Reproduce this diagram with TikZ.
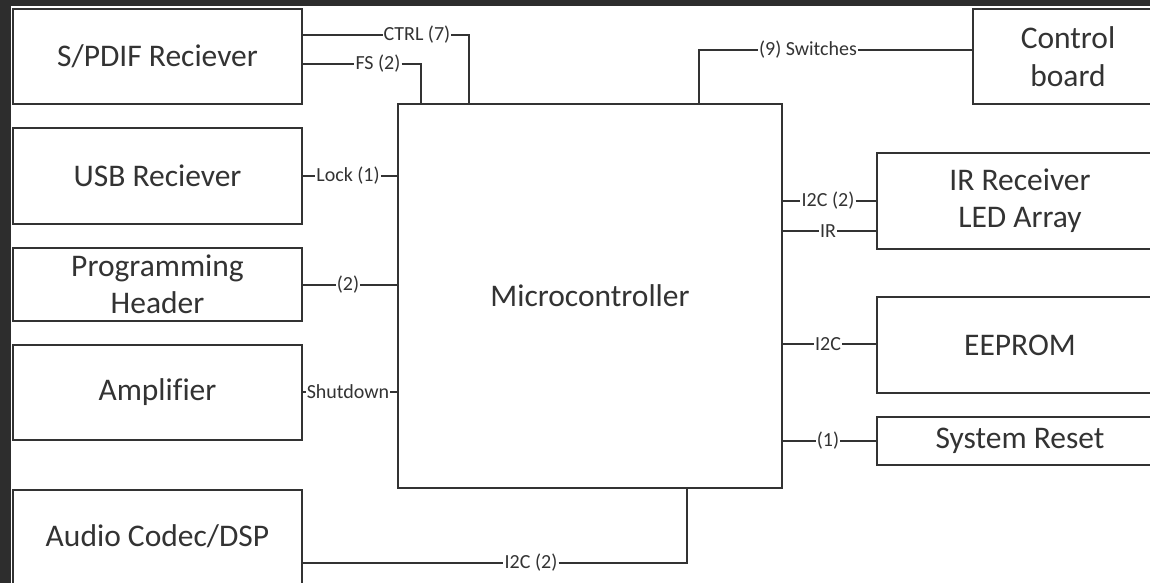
\documentclass[tikz,border=0pt]{standalone}
\usepackage{fontspec}
\setmainfont{Carlito}[Ligatures={NoCommon}]
\definecolor{frame}{HTML}{2D2D2D}
\definecolor{ink}{HTML}{333333}
\tikzset{
  blk/.style={draw=ink, line width=1.8pt, inner sep=0pt, align=center, text=ink,
    font=\fontsize{31.5}{37.4}\selectfont},
  lbl/.style={inner xsep=1pt, inner ysep=0pt, text=ink, font=\fontsize{20}{24}\selectfont},
  conn/.style={draw=ink, line width=1.8pt},
  bigtxt/.style={text=ink, align=center, inner sep=0pt, font=\fontsize{31.5}{37.4}\selectfont}
}
\begin{document}
\begin{tikzpicture}[x=1pt,y=-1pt]
\useasboundingbox (0,0) rectangle (1150,583);
\fill[frame] (0,0) rectangle (1150,583);
\fill[white] (11,6) rectangle (1150,583);
\clip (11,6) rectangle (1150,583);

% left blocks
\node[blk, minimum width=289pt, minimum height=95pt] (spdif) at (157.5,56.5) {S/PDIF Reciever};
\node[blk, minimum width=289pt, minimum height=96pt] (usb) at (157.5,176) {USB Reciever};
\node[blk, minimum width=289pt, minimum height=73pt] (prog) at (157.5,284.5) {Programming\\Header};
\node[blk, minimum width=289pt, minimum height=95pt] (amp) at (157.5,392.5) {Amplifier};
\node[blk, minimum width=289pt, minimum height=120pt, anchor=north] (codec) at (157.5,489) {};
\node[bigtxt] (codectxt) at (157.5,536) {Audio Codec/DSP};

% microcontroller
\node[blk, minimum width=384pt, minimum height=384pt] (mc) at (590,296) {Microcontroller};

% right blocks
\node[blk, minimum width=190pt, minimum height=95pt] (ctrlb) at (1068,56.5) {Control\\board};
\node[blk, minimum width=286pt, minimum height=96pt] (ir) at (1020,201) {IR Receiver\\LED Array};
\node[blk, minimum width=286pt, minimum height=96pt] (eeprom) at (1020,345) {EEPROM};
\node[blk, minimum width=286pt, minimum height=48pt] (reset) at (1020,441) {System Reset};

% labels
\node[lbl] (ctrl) at (417,35) {CTRL (7)};
\node[lbl] (fs) at (378,64) {FS (2)};
\node[lbl] (sw) at (808,50) {(9) Switches};
\node[lbl] (lock) at (348,176) {Lock (1)};
\node[lbl] (pgm) at (348,285) {(2)};
\node[lbl] (shdn) at (348,392) {Shutdown};
\node[lbl] (irtwo) at (828,201) {I2C (2)};
\node[lbl] (irsig) at (828,231) {IR};
\node[lbl] (eei) at (828,344) {I2C};
\node[lbl] (rst) at (828,441) {(1)};
\node[lbl] (codeci) at (531,563) {I2C (2)};

% connectors
\draw[conn] (spdif.east |- ctrl) -- (ctrl) -| ([xshift=72pt]mc.north west);
\draw[conn] (spdif.east |- fs) -- (fs) -| ([xshift=24pt]mc.north west);
\draw[conn] ([xshift=302pt]mc.north west) |- (sw) -- (ctrlb.west |- sw);
\draw[conn] (usb.east |- lock) -- (lock) -- (mc.west |- lock);
\draw[conn] (prog.east |- pgm) -- (pgm) -- (mc.west |- pgm);
\draw[conn] (amp.east |- shdn) -- (shdn) -- (mc.west |- shdn);
\draw[conn] (mc.east |- irtwo) -- (irtwo) -- (ir.west |- irtwo);
\draw[conn] (mc.east |- irsig) -- (irsig) -- (ir.west |- irsig);
\draw[conn] (mc.east |- eei) -- (eei) -- (eeprom.west |- eei);
\draw[conn] (mc.east |- rst) -- (rst) -- (reset.west |- rst);
\draw[conn] (codec.east |- codeci) -- (codeci) -| ([xshift=290pt]mc.south west);
\end{tikzpicture}
\end{document}
